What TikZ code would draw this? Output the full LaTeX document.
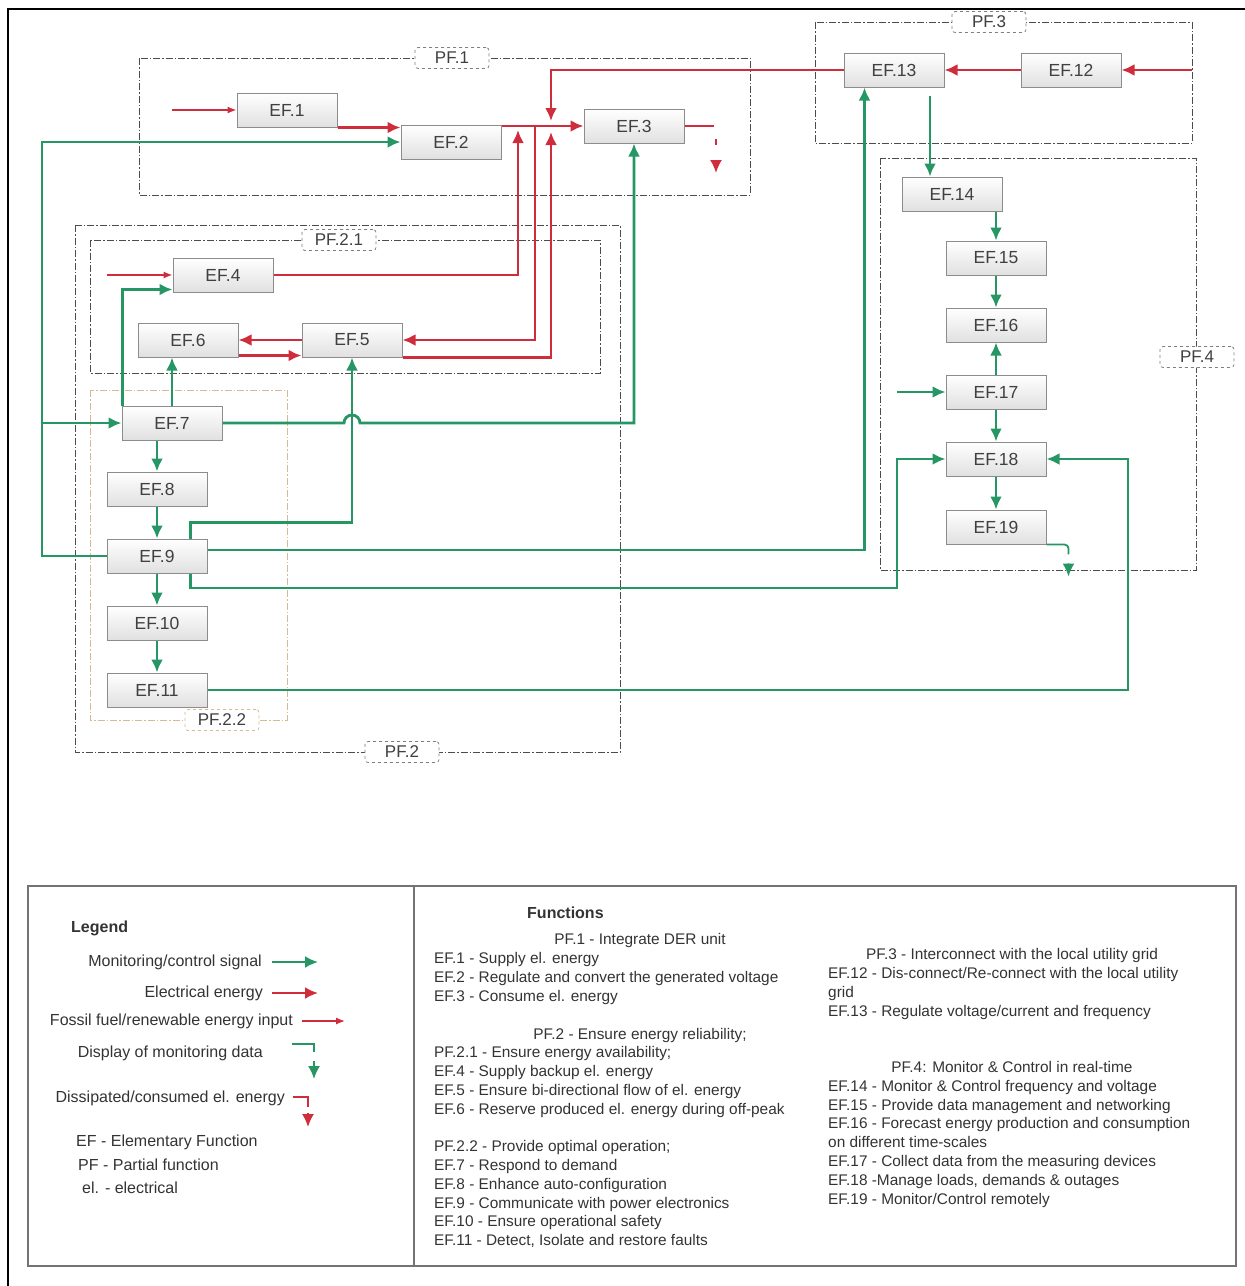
\documentclass[tikz,border=0pt]{standalone}
\usepackage{fontspec}
\setmainfont{Liberation Sans}
\usetikzlibrary{arrows.meta,calc,positioning}
\definecolor{sigcol}{RGB}{38,150,100}
\definecolor{nrgcol}{RGB}{208,45,60}
\definecolor{tancol}{RGB}{215,185,150}
\newcommand{\BigTip}{Latex[length=13pt,width=12pt]}
\newcommand{\SmallTip}{Latex[length=9pt,width=7pt]}
\tikzset{efbox/.style={draw=black!45,line width=1pt,top color=white,bottom color=black!12,minimum width=100pt,minimum height=34pt,inner sep=0pt,text=black!75,font=\fontsize{17.5}{17.5}\selectfont}}
\tikzset{pfframe/.style={draw=black!70,line width=1pt,dash pattern=on 7pt off 2pt on 1.5pt off 2pt}}
\tikzset{pftag/.style={draw=black!50,fill=white,line width=.8pt,dashed,rounded corners=3pt,minimum width=74pt,minimum height=21pt,inner sep=0pt,text=black!75,font=\fontsize{17}{17}\selectfont}}
\tikzset{sig/.style={draw=sigcol,line width=2.8pt,-{\BigTip}},nrg/.style={draw=nrgcol,line width=2.8pt,-{\BigTip}},fuel/.style={draw=nrgcol,line width=1.3pt,-{\SmallTip}}}
\tikzset{lgtext/.style={inner sep=0pt,text=black!80,font=\fontsize{16}{16}\selectfont},fntext/.style={inner sep=0pt,anchor=mid west,text=black!80,font=\fontsize{15.4}{15.4}\selectfont}}
\begin{document}
\begin{tikzpicture}[x=1pt,y=-1pt]
\useasboundingbox (0,0) rectangle (1245,1286);
\draw[line width=2pt] (8,1286) -- (8,9) -- (1245,9);
% partial functions
\draw[pfframe] (139,58) rectangle (750,195);
\draw[pfframe] (815,22) rectangle (1192,143);
\draw[pfframe] (880,158) rectangle (1196,570);
\draw[pfframe] (75,225) rectangle (620,752);
\draw[pfframe] (90,240) rectangle (600,373);
\draw[pfframe,draw=tancol] (90,390) rectangle (287,720);
\node[pftag] (pf1) at (452,58) {PF.1};
\node[pftag] (pf3) at (989,22) {PF.3};
\node[pftag] (pf4) at (1197,357) {PF.4};
\node[pftag] (pf2) at (402,752) {PF.2};
\node[pftag] (pf21) at (339,240) {PF.2.1};
\node[pftag,draw=tancol] (pf22) at (222,720) {PF.2.2};
% elementary functions
\node[efbox] (ef1) at (287,110) {EF.1};
\node[efbox] (ef2) at (451,142) {EF.2};
\node[efbox] (ef3) at (634,126) {EF.3};
\node[efbox] (ef4) at (223,275) {EF.4};
\node[efbox] (ef5) at (352,340) {EF.5};
\node[efbox] (ef6) at (188,340) {EF.6};
\node[efbox] (ef7) at (172,423) {EF.7};
\node[efbox] (ef8) at (157,489) {EF.8};
\node[efbox,below=32pt of ef8] (ef9) {EF.9};
\node[efbox,below=32pt of ef9] (ef10) {EF.10};
\node[efbox,below=32pt of ef10] (ef11) {EF.11};
\node[efbox] (ef13) at (894,70) {EF.13};
\node[efbox,right=76pt of ef13] (ef12) {EF.12};
\node[efbox] (ef14) at (952,194) {EF.14};
\node[efbox] (ef15) at (996,258) {EF.15};
\node[efbox,below=32pt of ef15] (ef16) {EF.16};
\node[efbox,below=32pt of ef16] (ef17) {EF.17};
\node[efbox,below=32pt of ef17] (ef18) {EF.18};
\node[efbox,below=33pt of ef18] (ef19) {EF.19};
% free ends
\coordinate (in1) at (172,110); \coordinate (in4) at (107,275); \coordinate (in12) at (1192,70); \coordinate (in17) at (897,389);
\coordinate (j1) at (518,130); \coordinate (j2) at (535,127); \coordinate (j3) at (551,132); \coordinate (j4) at (551,121);
\coordinate (bus) at (42,300); \coordinate (b18) at (897,588); \coordinate (r18) at (1128,686); \coordinate (d3) at (714,126);
% electrical energy
\draw[fuel] (in1 |- ef1.west) -- (ef1.west); \draw[fuel] (in4 |- ef4.west) -- (ef4.west);
\draw[nrg] (ef1.south east) -- (ef1.south east -| ef2.west);
\draw[nrg] (ef2.east |- ef3.west) -- (ef3.west);
\draw[nrg] (ef4.east) -| (j1);
\draw[nrg] (j2) |- (ef5.east);
\draw[nrg] (ef5.south east) -| (j3);
\draw[nrg] (ef13.west) -| (j4);
\draw[nrg] (ef5.west) -- (ef6.east);
\draw[nrg] ($(ef6.south east)+(0,-2)$) -- ($(ef6.south east -| ef5.west)+(0,-2)$);
\draw[nrg] (in12 |- ef12.east) -- (ef12.east); \draw[nrg] (ef12) -- (ef13);
\draw[nrg,-] (ef3.east) -- (d3);
\draw[nrg,line width=2pt,dash pattern=on 0pt off 13pt on 6pt off 12pt] ($(d3)+(2,0)$) -- ++(0,47);
% monitoring / control
\draw[sig] (ef9.west) -| (bus) |- (ef2.west);
\draw[sig] (bus |- ef7.west) -- (ef7.west);
\draw[sig] (ef7.north) -- (ef7.north |- ef6.south);
\draw[sig] ($(ef7.north west)+(1,0)$) |- ($(ef4.south west)+(0,-3)$);
\draw[sig] (ef7.east) -- (344,423) arc[start angle=180,end angle=360,radius=8] -| (ef3.south);
\draw[sig] ($(ef9.north east)+(-17,0)$) -- ++(0,-16) -| (ef5.south);
\draw[sig] ($(ef9.east)+(0,-6)$) -| ($(ef13.south west)+(21,0)$);
\draw[sig] ($(ef9.south east)+(-17,0)$) |- (b18) |- (ef18.west);
\draw[sig] (ef11.east) -- (ef11.east -| r18) |- (ef18.east);
\draw[sig] (ef7.south -| ef8) -- (ef8.north); \draw[sig] (ef8) -- (ef9); \draw[sig] (ef9) -- (ef10); \draw[sig] (ef10) -- (ef11);
\draw[sig] ($(ef13.south)+(36,8)$) -- ($(ef14.north)+(-22,0)$);
\draw[sig] (ef14.south -| ef15) -- (ef15.north);
\draw[sig] (ef15) -- (ef16); \draw[sig] (ef17) -- (ef16); \draw[sig] (in17 |- ef17.west) -- (ef17.west);
\draw[sig] (ef17) -- (ef18); \draw[sig] (ef18) -- (ef19);
\draw[sig,line width=1.8pt,rounded corners=4pt,dash pattern=on 30pt off 9pt on 30pt] (ef19.south east) -- ++(22,0) -- ++(0,32);
% legend
\draw[black!55,line width=1.5pt] (28,886) rectangle (1236,1266); \draw[black!55,line width=1.5pt] (414,886) -- (414,1266);
\node[lgtext,anchor=west,font=\fontsize{16}{16}\bfseries] (lgh) at (71,928) {Legend};
\node[lgtext,anchor=east] (lg1) at (262,962) {Monitoring/control signal};
\draw[sig,line width=2.2pt] ($(lg1.east)+(10,0)$) -- ++(46,0);
\node[lgtext,anchor=east] (lg2) at (263,993) {Electrical energy};
\draw[nrg,line width=2.2pt] ($(lg2.east)+(9,0)$) -- ++(46,0);
\node[lgtext,anchor=east] (lg3) at (293,1021) {Fossil fuel/renewable energy input};
\draw[fuel] ($(lg3.east)+(9,0)$) -- ++(43,0);
\node[lgtext,anchor=east] (lg4) at (263,1053) {Display of monitoring data};
\draw[sig,line width=1.8pt,dash pattern=on 30pt off 9pt on 30pt] ($(lg4.east)+(29,-9)$) -- ++(22,0) -- ++(0,35);
\node[lgtext,anchor=east] (lg5) at (285,1098) {Dissipated/consumed el. energy};
\draw[nrg,line width=1.8pt,dash pattern=on 25pt off 6pt on 30pt] ($(lg5.east)+(8,-1)$) -- ++(15,0) -- ++(0,30);
\node[lgtext,anchor=west] (lg6) at (76,1142) {EF - Elementary Function};
\node[lgtext,anchor=west] (lg7) at (78,1165) {PF - Partial function};
\node[lgtext,anchor=west] (lg8) at (82,1188) {el. - electrical};
% functions
\node[fntext,font=\fontsize{16}{16}\bfseries] (fnh) at (527,916) {Functions};
\node[fntext,anchor=mid] (fh1) at (640,942) {PF.1 - Integrate DER unit};
\foreach \t [count=\i from 0] in {{EF.1 -  Supply el. energy},{EF.2 -  Regulate and convert the generated voltage},{EF.3 - Consume el. energy},{},{},
  {PF.2.1 - Ensure energy availability;},{EF.4 - Supply backup el. energy},{EF.5 - Ensure bi-directional flow of  el. energy},{EF.6 - Reserve produced el. energy during off-peak},{},
  {PF.2.2 - Provide optimal operation;},{EF.7 -  Respond to demand},{EF.8 - Enhance auto-configuration},{EF.9 - Communicate with power electronics},{EF.10 - Ensure operational safety},{EF.11 - Detect, Isolate and restore faults}}
  \node[fntext] (fa\i) at (434,961+18.8*\i) {\t};
\node[fntext,anchor=mid] (fh2) at (640,1037) {PF.2 -  Ensure energy reliability;};
\node[fntext,anchor=mid] (fh3) at (1012,957) {PF.3 -  Interconnect with the local utility grid};
\foreach \t [count=\i from 1] in {{EF.12 - Dis-connect/Re-connect with the local utility},{grid},{EF.13 - Regulate voltage/current and frequency},{},{},{},
  {EF.14 - Monitor \& Control frequency and voltage},{EF.15 - Provide data management and networking},{EF.16 - Forecast energy production and consumption},{on different time-scales},
  {EF.17 - Collect data from the  measuring devices},{EF.18 -Manage loads, demands \& outages},{EF.19 - Monitor/Control remotely}}
  \node[fntext] (fb\i) at (828,957+18.8*\i) {\t};
\node[fntext,anchor=mid] (fh4) at (1012,1070) {PF.4: Monitor \& Control in real-time};
\end{tikzpicture}
\end{document}
